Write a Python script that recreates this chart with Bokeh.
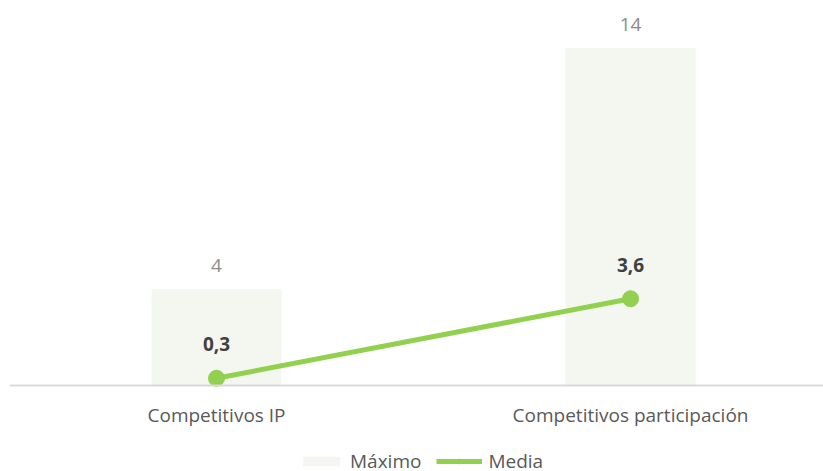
from bokeh.plotting import figure
from bokeh.models import (Range1d, ColumnDataSource, LabelSet, Span,
                          Legend, LegendItem)
from bokeh.core.properties import value
from bokeh.embed import file_html
from bokeh.resources import INLINE

categories = ["Competitivos IP", "Competitivos participación"]
maximo = [4, 14]
media = [0.3, 3.6]
maximo_labels = ["4", "14"]
media_labels = ["0,3", "3,6"]

xs = list(range(len(categories)))
src = ColumnDataSource(dict(x=xs, base=[0] * len(xs), cat=categories,
                            maximo=maximo, media=media,
                            ml=maximo_labels, dl=media_labels))

FONT = "Open Sans"
GREEN = "#92D050"

p = figure(width=823, height=471, output_backend="svg",
           toolbar_location=None,
           x_range=Range1d(-0.5, 1.466), y_range=Range1d(-3.568, 15.975),
           x_axis_location=None, y_axis_location=None,
           min_border_left=9, min_border_right=0,
           min_border_top=0, min_border_bottom=0)
p.outline_line_color = None
p.xgrid.visible = False
p.ygrid.visible = False
p.background_fill_color = "white"
p.border_fill_color = "white"

bars = p.vbar(x="x", top="maximo", bottom="base", width=0.314, source=src,
              fill_color="#F3F7EF", line_color=None)
p.add_layout(Span(location=0, dimension="width", line_color="#d9d9d9",
                  line_width=2))
line = p.line(x="x", y="media", source=src, line_color=GREEN, line_width=5)
pts = p.scatter(x="x", y="media", source=src, size=16, fill_color=GREEN,
                line_color=GREEN)

p.add_layout(LabelSet(x="x", y="maximo", text="ml", source=src, y_offset=24,
                      text_align="center", text_baseline="middle",
                      text_font=value(FONT), text_font_size=value("19px"),
                      text_color="#8c8c8c"))
p.add_layout(LabelSet(x="x", y="media", text="dl", source=src, y_offset=34,
                      text_align="center", text_baseline="middle",
                      text_font=value(FONT), text_font_size=value("19px"),
                      text_font_style="bold", text_color="#404040"))
# category (x axis) labels under the baseline
p.add_layout(LabelSet(x="x", y="base", text="cat", source=src, y_offset=-29,
                      text_align="center", text_baseline="middle",
                      text_font=value(FONT), text_font_size=value("19px"),
                      text_color="#595959"))

legend = Legend(items=[LegendItem(label="Máximo", renderers=[bars]),
                       LegendItem(label="Media", renderers=[line, pts])],
                orientation="horizontal", location=(289, -3),
                label_text_font=FONT, label_text_font_size="19px",
                label_text_color="#595959", glyph_width=46, glyph_height=12,
                label_standoff=6, spacing=15, padding=0, margin=0,
                label_height=18,
                border_line_color=None, background_fill_alpha=0)
p.add_layout(legend)

open("out.html", "w").write(file_html(p, INLINE))
